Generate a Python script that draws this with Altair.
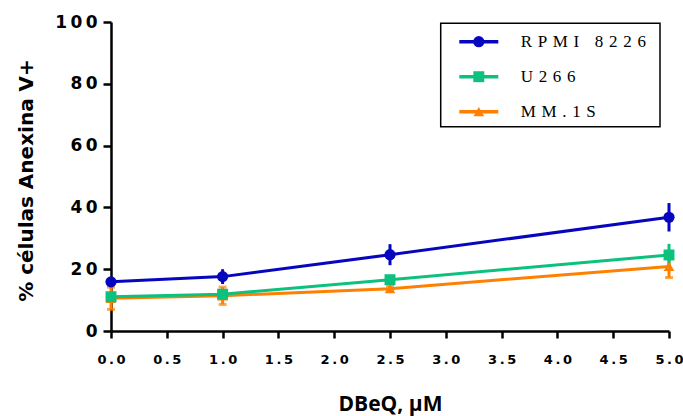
import altair as alt
import pandas as pd

# ---- data ----
doses = [0.0, 1.0, 2.5, 5.0]
series_names = ["RPMI 8226", "U266", "MM.1S"]
rpmi_mean = [15.9, 17.6, 24.7, 36.8]
rpmi_err = [1.0, 2.4, 3.4, 4.6]
u266_mean = [11.1, 11.9, 16.6, 24.6]
u266_err = [1.5, 1.5, 1.0, 3.6]
mm1s_mean = [10.6, 11.4, 13.7, 20.9]
mm1s_err = [3.6, 2.8, 0.8, 3.6]
x_ticks = [0, 0.5, 1, 1.5, 2, 2.5, 3, 3.5, 4, 4.5, 5]
y_ticks = [0, 20, 40, 60, 80, 100]

colors = ["#0606BE", "#0CC07E", "#FF8000"]
shapes = ["circle", "square", "triangle-up"]

rows = []
# draw order: MM.1S first, RPMI last (on top)
for name, means, errs in [("MM.1S", mm1s_mean, mm1s_err),
                          ("U266", u266_mean, u266_err),
                          ("RPMI 8226", rpmi_mean, rpmi_err)]:
    for d, m, e in zip(doses, means, errs):
        rows.append({"dose": d, "series": name, "mean": m, "err": e})
df = pd.DataFrame(rows)

color_scale = alt.Scale(domain=series_names, range=colors)
shape_scale = alt.Scale(domain=series_names, range=shapes)
size_scale = alt.Scale(domain=series_names, range=[125, 115, 230])

THIN = "\u2009"
LEGSP = "\u2004"

x_enc = alt.X("dose:Q", scale=alt.Scale(domain=[0, 5], nice=False),
              axis=alt.Axis(values=x_ticks, format=".1f",
                            labelExpr=f"join(split(datum.label, ''), '{THIN}')",
                            title="DBeQ, µM", titleFont="Open Sans",
                            titleFontSize=21, titleFontWeight="bold",
                            titleBaseline="alphabetic", titleY=79,
                            labelFont="DejaVu Sans", labelFontSize=13,
                            labelFontWeight="bold", labelPadding=15,
                            tickSize=7, labelFlush=False))
y_enc = alt.Y("mean:Q", scale=alt.Scale(domain=[0, 100], nice=False),
              axis=alt.Axis(values=y_ticks,
                            labelExpr=f"join(split(datum.label, ''), '{THIN}')",
                            title="% células Anexina V+", titleFont="DejaVu Sans",
                            titleFontSize=20, titleFontWeight="bold",
                            titleBaseline="alphabetic", titleX=-79, titleY=158,
                            labelFont="DejaVu Sans", labelFontSize=17,
                            labelFontWeight="bold", labelPadding=6,
                            tickSize=8))

base = alt.Chart(df).transform_calculate(
    lo="datum.mean - datum.err", hi="datum.mean + datum.err")

lines = base.mark_line(strokeWidth=3).encode(
    x=x_enc, y=y_enc,
    color=alt.Color("series:N", scale=color_scale, legend=None),
    detail="series:N")

errbars = base.mark_rule(strokeWidth=3).encode(
    x="dose:Q", y="lo:Q", y2="hi:Q",
    color=alt.Color("series:N", scale=color_scale, legend=None))

caps_lo = base.transform_filter("datum.series == 'MM.1S'").mark_tick(
    orient="horizontal", size=8, thickness=3).encode(
    x="dose:Q", y="lo:Q",
    color=alt.Color("series:N", scale=color_scale, legend=None))
caps_hi = base.transform_filter("datum.series == 'MM.1S'").mark_tick(
    orient="horizontal", size=8, thickness=3).encode(
    x="dose:Q", y="hi:Q",
    color=alt.Color("series:N", scale=color_scale, legend=None))

points = base.mark_point(filled=True, opacity=1).encode(
    x="dose:Q", y="mean:Q",
    color=alt.Color("series:N", scale=color_scale, legend=None),
    shape=alt.Shape("series:N", scale=shape_scale, legend=None),
    size=alt.Size("series:N", scale=size_scale, legend=None))

main = alt.layer(lines, caps_lo, caps_hi, errbars, points)

# ---- hand-built legend box ----
leg_df = pd.DataFrame({"series": series_names, "row": [0, 1, 2]})
leg_base = alt.Chart(leg_df)
row_y = alt.Y("row:Q", scale=alt.Scale(domain=[0, 2], range=[19.7, 89.7]), axis=None)

box = alt.Chart(pd.DataFrame({"k": [0]})).mark_rect(
    fill="white", stroke="black", strokeWidth=1.5).encode(
    x=alt.value(329.7), x2=alt.value(549), y=alt.value(1.3), y2=alt.value(104.7))

leg_lines = leg_base.mark_rule(strokeWidth=3.5).encode(
    x=alt.value(348.3), x2=alt.value(387.3), y=row_y,
    color=alt.Color("series:N", scale=color_scale, legend=None))
leg_pts = leg_base.mark_point(filled=True, opacity=1).encode(
    x=alt.value(367.8), y=row_y,
    color=alt.Color("series:N", scale=color_scale, legend=None),
    shape=alt.Shape("series:N", scale=shape_scale, legend=None),
    size=alt.Size("series:N", scale=size_scale, legend=None))
leg_text = leg_base.transform_calculate(
    disp=f"join(split(datum.series, ''), '{LEGSP}')").mark_text(
    align="left", baseline="middle", font="Liberation Serif",
    fontSize=17, color="black").encode(
    x=alt.value(409.7), y=row_y, text="disp:N")

legend = alt.layer(box, leg_lines, leg_pts, leg_text)

chart = alt.layer(main, legend).resolve_scale(y="independent").properties(
    width=558, height=309,
    padding={"left": 111, "top": 22, "right": 14, "bottom": 85},
    autosize=alt.AutoSizeParams(type="none"),
    background="white",
).configure_view(stroke=None).configure_axis(
    grid=False, domainColor="black", domainWidth=2.5, tickColor="black",
    tickWidth=2.5, labelColor="black", titleColor="black")

chart.save("out.html", embed_options={"renderer": "svg", "actions": False})
